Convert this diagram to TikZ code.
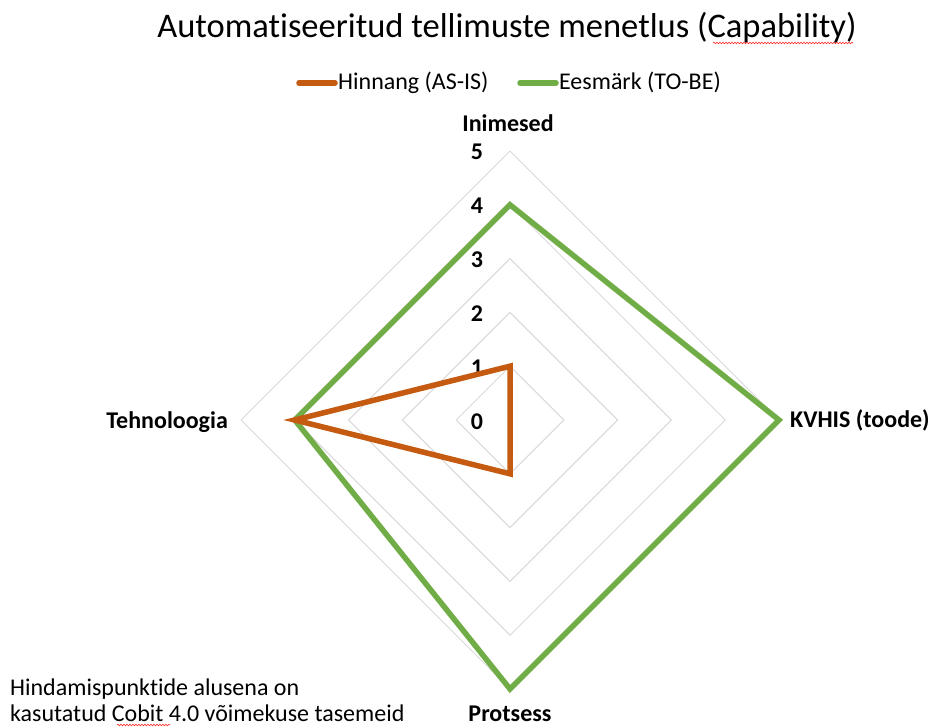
\documentclass[tikz,border=0pt]{standalone}
\usepackage{fontspec}
\setmainfont{Carlito}[Ligatures=NoCommon]
\usetikzlibrary{calc,decorations.pathmorphing}
\definecolor{asis}{HTML}{C55A11}
\definecolor{tobe}{HTML}{70AD47}
\definecolor{gridgray}{HTML}{D9D9D9}
\tikzset{
  gridline/.style={draw=gridgray, line width=1pt},
  series/.style={line width=5.5pt, line join=miter},
  axislabel/.style={font=\fontsize{24}{28}\selectfont\bfseries, inner sep=0pt},
  ticklabel/.style={font=\fontsize{24}{28}\selectfont\bfseries, inner sep=0pt, anchor=base},
  legendtext/.style={font=\fontsize{24}{28}\selectfont, inner sep=0pt, anchor=base west},
  legendline/.style={line width=5.5pt, line cap=round},
  notetext/.style={font=\fontsize{24}{24}\selectfont, inner sep=0pt, anchor=base west},
  spellmark/.style={draw=red!85!white, line width=0.6pt, decorate,
    decoration={snake, amplitude=0.8pt, segment length=3pt}}
}
\begin{document}
\begin{tikzpicture}[x=1pt, y=-1pt]
  \useasboundingbox (0,0) rectangle (933,727);
  \def\lvl{53.8}
  \coordinate (c) at (510,420);

  % grid rings for levels 1..5
  \foreach \k in {1,...,5} {
    \draw[gridline] ($(c)+(0,-\k*\lvl)$) -- ($(c)+(\k*\lvl,0)$)
      -- ($(c)+(0,\k*\lvl)$) -- ($(c)+(-\k*\lvl,0)$) -- cycle;
  }
  % scale values on the upper axis
  \foreach \k in {0,...,5} {
    \node[ticklabel] (t\k) at ($(c)+(-33,-\k*\lvl+9)$) {\k};
  }

  % series points
  \coordinate (i1) at ($(c)+(0,-1*\lvl)$);
  \coordinate (p1) at ($(c)+(0,1*\lvl)$);
  \coordinate (h4) at ($(c)+(-4*\lvl,0)$);
  \coordinate (i4) at ($(c)+(0,-4*\lvl)$);
  \coordinate (k5) at ($(c)+(5*\lvl,0)$);
  \coordinate (p5) at ($(c)+(0,5*\lvl)$);

  \draw[series, draw=tobe] (i4) -- (k5) -- (p5) -- (h4) -- cycle;
  \draw[series, draw=asis] (i1) -- (c) -- (p1) -- (h4) -- cycle;

  % axis names
  \node[axislabel, anchor=base] (inimesed) at (508,132) {Inimesed};
  \node[axislabel, anchor=base east] (tehno) at (228,428) {Tehnoloogia};
  \node[axislabel, anchor=base west] (kvhis) at (790,427) {KVHIS (toode)};
  \node[axislabel, anchor=base] (protsess) at (510,721) {Protsess};

  % title
  \node[font=\fontsize{34.5}{40}\selectfont, inner sep=0pt, anchor=base] (title) at (507,38)
    {Automatiseeritud tellimuste menetlus (Capability)};
  \coordinate (sa) at (713,43);
  \coordinate (sb) at (853,43);
  \draw[spellmark] (sa) -- (sb);

  % legend
  \coordinate (la) at (299,83);
  \coordinate (lb) at (335,83);
  \draw[legendline, asis] (la) -- (lb);
  \node[legendtext] (lasis) at (338,90) {Hinnang (AS-IS)};
  \coordinate (lc) at (520,83);
  \coordinate (ld) at (556,83);
  \draw[legendline, tobe] (lc) -- (ld);
  \node[legendtext] (ltobe) at (559,90) {Eesmärk (TO-BE)};

  % note
  \node[notetext] (note1) at (10,695) {Hindamispunktide alusena on};
  \node[notetext] (note2) at (10,721) {kasutatud Cobit 4.0 võimekuse tasemeid};
  \coordinate (ca) at (117,725);
  \coordinate (cb) at (170,725);
  \draw[spellmark] (ca) -- (cb);
\end{tikzpicture}
\end{document}
